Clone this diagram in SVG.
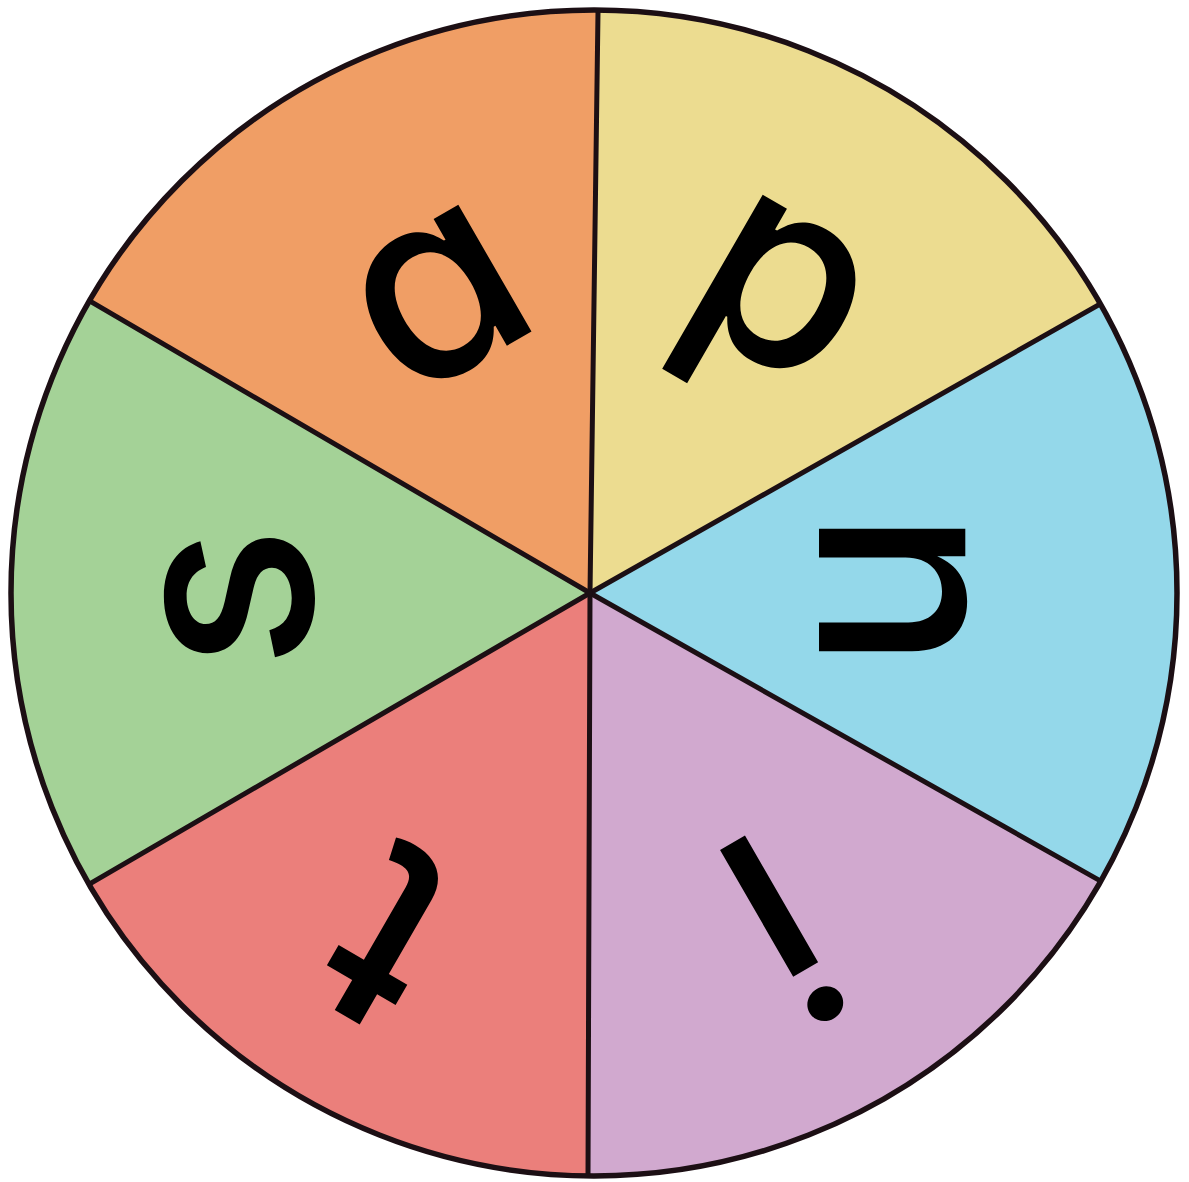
<svg xmlns="http://www.w3.org/2000/svg" width="1189" height="1182" viewBox="0 0 1189 1182">
  <style>
    .spoke { stroke: #1c0f14; stroke-width: 5; stroke-linecap: round; fill: none; }
    .rim { stroke: #1c0f14; stroke-width: 5.5; fill: none; }
    .letter { font-family: Inter, "Liberation Sans", sans-serif; font-size: 268px; font-weight: 500; font-feature-settings: "cv11" 1; fill: #000; text-anchor: middle; }
  </style>
  <defs>
    <clipPath id="disc">
      <circle cx="594" cy="593" r="583"/>
    </clipPath>
  </defs>
  <rect width="1189" height="1182" fill="#ffffff"/>
  <g id="sectors" clip-path="url(#disc)">
    <polygon id="sector-a" points="590,593 -31,230.5 600,-133" fill="#f09e65"/>
    <polygon id="sector-p" points="590,593 600,-133 1230,230.5" fill="#ecdc90"/>
    <polygon id="sector-n" points="590,593 1230,230.5 1230,954" fill="#94d8ea"/>
    <polygon id="sector-i" points="590,593 1230,954 587.5,1320.5" fill="#d1a9cf"/>
    <polygon id="sector-t" points="590,593 587.5,1320.5 -31,954" fill="#eb7f7b"/>
    <polygon id="sector-s" points="590,593 -31,954 -31,230.5" fill="#a4d297"/>
  </g>
  <g id="connectors" clip-path="url(#disc)">
    <line class="spoke" x1="590" y1="593" x2="600" y2="-133"/>
    <line class="spoke" x1="590" y1="593" x2="1230" y2="230.5"/>
    <line class="spoke" x1="590" y1="593" x2="1230" y2="954"/>
    <line class="spoke" x1="590" y1="593" x2="587.5" y2="1320.5"/>
    <line class="spoke" x1="590" y1="593" x2="-31" y2="954"/>
    <line class="spoke" x1="590" y1="593" x2="-31" y2="230.5"/>
  </g>
  <circle class="rim" cx="594" cy="593" r="583"/>
  <g id="label-a" transform="translate(440,300) rotate(-30)"><text class="letter" x="0" y="73">a</text></g>
  <g id="label-p" transform="translate(781,290) rotate(30)"><text class="letter" x="0" y="73">p</text></g>
  <g id="label-n" transform="translate(892,590) rotate(90)"><text class="letter" x="0" y="73">n</text></g>
  <g id="label-i" transform="translate(769,906) rotate(150)"><text class="letter" x="0" y="73">i</text></g>
  <g id="label-t" transform="translate(395,920) rotate(210)"><text class="letter" x="0" y="73">t</text></g>
  <g id="label-s" transform="translate(239,598) rotate(-90)"><text class="letter" x="0" y="73">s</text></g>
</svg>
